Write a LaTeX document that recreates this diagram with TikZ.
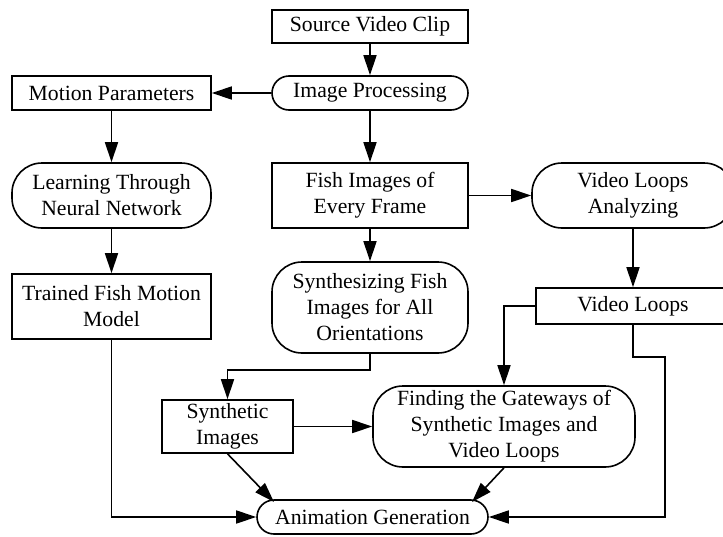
\documentclass[tikz,border=0pt]{standalone}
\usepackage{fontspec}
\setmainfont{Liberation Serif}
\usetikzlibrary{arrows.meta}
\begin{document}
\begin{tikzpicture}[x=1pt,y=-1pt,
  every node/.style={font=\fontsize{21.7}{26}\selectfont, align=center, inner sep=0pt, line width=1.6pt},
  sqbox/.style={draw, rectangle},
  rbox/.style={draw, rectangle, rounded corners=#1},
  rbox/.default=17pt,
  conn/.style={line width=1.6pt, -{Triangle[length=20pt,width=13pt]}}]
\useasboundingbox (0,0) rectangle (723,536);
\node[sqbox, minimum width=196pt, minimum height=33pt] (src) at (370,26.5) {Source Video Clip};
\node[rbox, minimum width=196pt, minimum height=34pt] (ip) at (370,93) {Image Processing};
\node[sqbox, minimum width=199pt, minimum height=34pt] (mp) at (111.5,93) {Motion Parameters};
\node[rbox=30pt, minimum width=199pt, minimum height=65pt] (ln) at (111.5,195.5) {Learning Through\\Neural Network};
\node[sqbox, minimum width=199pt, minimum height=65pt] (tf) at (111.5,306.5) {Trained Fish Motion\\Model};
\node[sqbox, minimum width=196pt, minimum height=65pt] (fi) at (370,195.5) {Fish Images of\\Every Frame};
\node[rbox=30pt, minimum width=202pt, minimum height=65pt] (va) at (633,195.5) {Video Loops\\Analyzing};
\node[sqbox, minimum width=194pt, minimum height=36pt] (vl) at (633,306) {Video Loops};
\node[rbox=30pt, minimum width=196pt, minimum height=91pt] (sy) at (370,307.5) {Synthesizing Fish\\Images for All\\Orientations};
\node[sqbox, minimum width=131pt, minimum height=53pt] (si) at (227.5,426.5) {Synthetic\\Images};
\node[rbox=30pt, minimum width=262pt, minimum height=81pt] (fg) at (504,426.5) {Finding the Gateways of\\Synthetic Images and\\Video Loops};
\node[rbox, minimum width=231pt, minimum height=34pt] (ag) at (372.5,517) {Animation Generation};
\coordinate (agL) at (274,502);
\coordinate (agR) at (472,502);
\draw[conn] (src) -- (ip);
\draw[conn] (ip) -- (mp);
\draw[conn] (mp) -- (ln);
\draw[conn] (ln) -- (tf);
\draw[conn] (ip) -- (fi);
\draw[conn] (fi) -- (va);
\draw[conn] (va) -- (vl);
\draw[conn] (fi) -- (sy);
\draw[conn] (sy.south) -- ++(0,16) -| (si.north);
\draw[conn] (si) -- (fg);
\draw[conn] (vl.west) -| (fg.north);
\draw[conn] (vl.south) -- ++(0,32) -- ++(32,0) |- (ag.east);
\draw[conn] (tf.south) |- (ag.west);
\draw[conn] (si.south) -- (agL);
\draw[conn] (fg.south) -- (agR);
\end{tikzpicture}
\end{document}
